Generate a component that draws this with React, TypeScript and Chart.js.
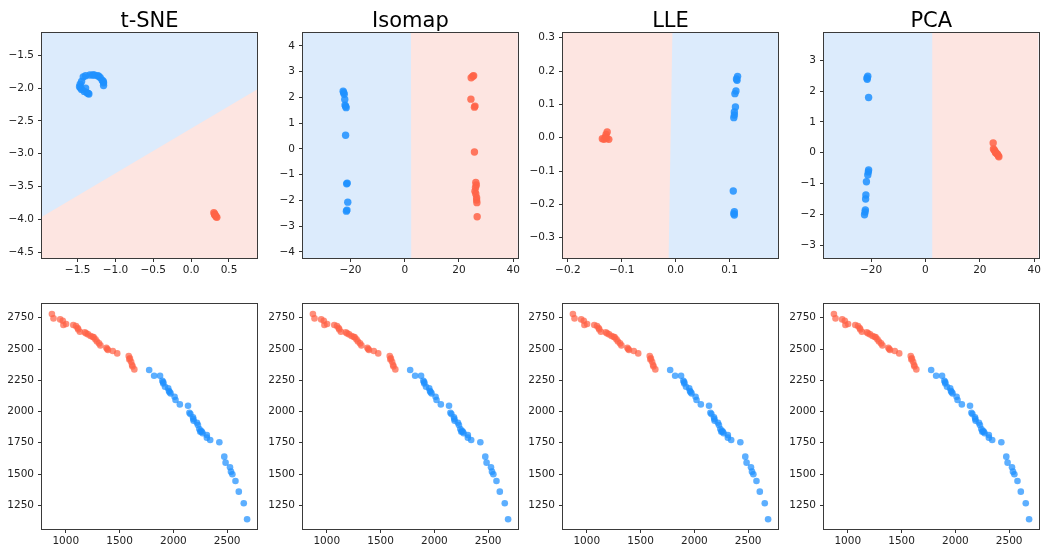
import { useEffect, useRef } from "react";
import { Chart, registerables } from "chart.js";

Chart.register(...registerables);

// ---- t-SNE embedding ----
const tsneBlueX = [-1.425, -1.394, -1.337, -1.3, -1.28, -1.236, -1.22, -1.201, -1.175, -1.16, -1.157, -1.157, -1.447, -1.465, -1.474, -1.46, -1.447, -1.412, -1.377, -1.351, -1.394, -1.36];
const tsneBlueY = [-1.83, -1.81, -1.8, -1.8, -1.8, -1.81, -1.82, -1.84, -1.88, -1.9, -1.92, -1.96, -1.9, -1.94, -1.98, -2.0, -2.02, -2.05, -2.07, -2.09, -2.0, -2.08];
const tsneRedX = [0.3, 0.31, 0.32, 0.33, 0.34, 0.31];
const tsneRedY = [-3.9, -3.92, -3.94, -3.96, -3.97, -3.93];
const tsneBoundaryX = [-1.97, 0.87];
const tsneBoundaryY = [-3.96, -2.02];
const tsneXTicks = [-1.5, -1.0, -0.5, 0.0, 0.5];
const tsneYTicks = [-4.5, -4.0, -3.5, -3.0, -2.5, -2.0, -1.5];

// ---- Isomap embedding ----
const isoBlueX = [-22.7, -22.5, -22.3, -22.1, -22.0, -21.8, -21.6, -21.8, -21.2, -21.4, -21.0, -21.3, -21.5];
const isoBlueY = [2.24, 2.18, 2.12, 1.92, 1.7, 1.65, 1.6, 0.53, -1.33, -1.36, -2.07, -2.38, -2.42];
const isoRedX = [25.1, 25.4, 24.5, 24.4, 25.7, 25.9, 25.7, 26.2, 26.4, 26.1, 25.9, 26.2, 26.5, 26.5, 26.6, 26.7];
const isoRedY = [2.82, 2.84, 2.76, 1.93, 1.62, 1.66, -0.12, -1.31, -1.4, -1.5, -1.65, -1.75, -1.9, -1.99, -2.09, -2.64];
const isoBoundaryX = [2.3, 2.4];
const isoBoundaryY = [4.5, -4.24];
const isoXTicks = [-20, 0, 20, 40];
const isoYTicks = [-4, -3, -2, -1, 0, 1, 2, 3, 4];

// ---- LLE embedding ----
const lleBlueX = [0.115, 0.114, 0.113, 0.112, 0.11, 0.111, 0.109, 0.108, 0.109, 0.107, 0.109, 0.108, 0.109];
const lleBlueY = [0.184, 0.172, 0.176, 0.14, 0.132, 0.092, 0.077, 0.06, 0.068, -0.16, -0.222, -0.228, -0.232];
const lleRedX = [-0.127, -0.129, -0.13, -0.136, -0.133, -0.124, -0.128];
const lleRedY = [0.017, 0.01, 0.002, -0.003, -0.005, -0.005, -0.002];
const lleBoundaryX = [-0.006, -0.013];
const lleBoundaryY = [0.314, -0.361];
const lleXTicks = [-0.2, -0.1, 0.0, 0.1];
const lleYTicks = [-0.3, -0.2, -0.1, 0.0, 0.1, 0.2, 0.3];

// ---- PCA embedding ----
const pcaBlueX = [-21.2, -21.5, -21.4, -20.9, -20.9, -21.0, -21.2, -21.7, -21.9, -22.0, -22.1, -22.2, -22.4];
const pcaBlueY = [2.48, 2.42, 2.38, 1.79, -0.56, -0.62, -0.72, -0.94, -1.37, -1.5, -1.85, -1.92, -2.01];
const pcaRedX = [24.9, 25.0, 25.3, 25.6, 25.8, 26.1, 26.5, 26.8, 27.0];
const pcaRedY = [0.32, 0.12, 0.09, 0.04, 0.0, -0.02, -0.05, -0.1, -0.13];
const pcaBoundaryX = [2.5, 2.5];
const pcaBoundaryY = [3.88, -3.41];
const pcaXTicks = [-20, 0, 20, 40];
const pcaYTicks = [-3, -2, -1, 0, 1, 2, 3];

// ---- original feature space (same for every method) ----
const rawRedX = [871, 886, 948, 972, 978, 1003, 1070, 1095, 1110, 1116, 1131, 1177, 1190, 1208, 1230, 1250, 1260, 1276, 1290, 1309, 1322, 1377, 1385, 1392, 1437, 1478, 1585, 1591, 1596, 1607, 1616, 1620, 1637];
const rawRedY = [2780, 2745, 2737, 2726, 2692, 2700, 2692, 2684, 2668, 2657, 2638, 2633, 2625, 2617, 2604, 2598, 2593, 2577, 2560, 2545, 2529, 2510, 2500, 2492, 2484, 2465, 2444, 2417, 2425, 2398, 2372, 2360, 2337];
const rawBlueX = [1775, 1821, 1876, 1897, 1905, 1906, 1922, 1952, 1959, 1965, 1974, 2011, 2020, 2060, 2136, 2149, 2158, 2182, 2185, 2188, 2219, 2228, 2241, 2250, 2255, 2265, 2271, 2311, 2311, 2342, 2427, 2473, 2485, 2526, 2535, 2548, 2577, 2608, 2654, 2685];
const rawBlueY = [2332, 2286, 2286, 2246, 2235, 2225, 2198, 2185, 2164, 2155, 2145, 2118, 2092, 2057, 2046, 1990, 1980, 1954, 1940, 1926, 1910, 1892, 1860, 1838, 1845, 1838, 1826, 1812, 1791, 1772, 1754, 1639, 1591, 1554, 1519, 1498, 1444, 1359, 1266, 1138];
const rawXTicks = [1000, 1500, 2000, 2500];
const rawYTicks = [1250, 1500, 1750, 2000, 2250, 2500, 2750];

const titles = ["t-SNE", "Isomap", "LLE", "PCA"];

const BLUE = "30,144,255";
const RED = "255,99,71";
const FONT = "'DejaVu Sans', sans-serif";

type Side = "below" | "right";

interface PanelCfg {
  title?: string;
  row: number;
  col: number;
  xRange: [number, number];
  yRange: [number, number];
  xTicks: number[];
  yTicks: number[];
  xDec: number;
  yDec: number;
  blueX: number[];
  blueY: number[];
  redX: number[];
  redY: number[];
  alpha: number;
  radius: number;
  boundary?: { x: number[]; y: number[]; base: string; other: string; side: Side };
}

const fmt = (v: number, d: number) => {
  const s = Math.abs(v).toFixed(d);
  return (v < -1e-9 ? "\u2212" : "") + s;
};

const pts = (xs: number[], ys: number[]) => xs.map((x, i) => ({ x, y: ys[i] }));

// opaque pale region fills
const bgBlue = "#dcebfc";
const bgRed = "#fde5e1";

const panels: PanelCfg[] = [
  {
    title: titles[0], row: 0, col: 0, xRange: [-1.97, 0.87], yRange: [-4.59, -1.16],
    xTicks: tsneXTicks, yTicks: tsneYTicks, xDec: 1, yDec: 1,
    blueX: tsneBlueX, blueY: tsneBlueY, redX: tsneRedX, redY: tsneRedY, alpha: 0.85, radius: 3.7,
    boundary: { x: tsneBoundaryX, y: tsneBoundaryY, base: bgBlue, other: bgRed, side: "below" },
  },
  {
    title: titles[1], row: 0, col: 1, xRange: [-37.5, 41.7], yRange: [-4.24, 4.5],
    xTicks: isoXTicks, yTicks: isoYTicks, xDec: 0, yDec: 0,
    blueX: isoBlueX, blueY: isoBlueY, redX: isoRedX, redY: isoRedY, alpha: 0.85, radius: 3.7,
    boundary: { x: isoBoundaryX, y: isoBoundaryY, base: bgBlue, other: bgRed, side: "right" },
  },
  {
    title: titles[2], row: 0, col: 2, xRange: [-0.209, 0.19], yRange: [-0.361, 0.314],
    xTicks: lleXTicks, yTicks: lleYTicks, xDec: 1, yDec: 1,
    blueX: lleBlueX, blueY: lleBlueY, redX: lleRedX, redY: lleRedY, alpha: 0.85, radius: 3.7,
    boundary: { x: lleBoundaryX, y: lleBoundaryY, base: bgRed, other: bgBlue, side: "right" },
  },
  {
    title: titles[3], row: 0, col: 3, xRange: [-37.3, 41.6], yRange: [-3.41, 3.88],
    xTicks: pcaXTicks, yTicks: pcaYTicks, xDec: 0, yDec: 0,
    blueX: pcaBlueX, blueY: pcaBlueY, redX: pcaRedX, redY: pcaRedY, alpha: 0.85, radius: 3.7,
    boundary: { x: pcaBoundaryX, y: pcaBoundaryY, base: bgBlue, other: bgRed, side: "right" },
  },
  ...[0, 1, 2, 3].map((c) => ({
    row: 1, col: c, xRange: [779, 2777] as [number, number], yRange: [1060, 2860] as [number, number],
    xTicks: rawXTicks, yTicks: rawYTicks, xDec: 0, yDec: 0,
    blueX: rawBlueX, blueY: rawBlueY, redX: rawRedX, redY: rawRedY, alpha: 0.72, radius: 3.3,
  })),
];

// grid geometry
const COL_LEFT = [42, 303, 563, 824];
const PLOT_W = 217;
const Y_AXIS_W = 42;
const RIGHT_PAD = 2;
const ROW_TOP = [0, 280];
const ROW_PAD_TOP = [33, 24];
const ROW_X_AXIS_H = [22, 17];
const PLOT_H = 225;

function Panel({ cfg }: { cfg: PanelCfg }) {
  const ref = useRef<HTMLCanvasElement | null>(null);
  const w = Y_AXIS_W + PLOT_W + RIGHT_PAD;
  const h = ROW_PAD_TOP[cfg.row] + PLOT_H + ROW_X_AXIS_H[cfg.row];

  useEffect(() => {
    if (!ref.current) return;
    const decor = {
      id: "decor",
      beforeDatasetsDraw(chart: any) {
        const b = cfg.boundary;
        if (!b) return;
        const { ctx, chartArea: a, scales } = chart;
        const sx = scales.x, sy = scales.y;
        ctx.save();
        ctx.beginPath();
        ctx.rect(a.left, a.top, a.right - a.left, a.bottom - a.top);
        ctx.clip();
        ctx.fillStyle = b.base;
        ctx.fillRect(a.left, a.top, a.right - a.left, a.bottom - a.top);
        const poly: [number, number][] = [
          [b.x[0], b.y[0]],
          [b.x[1], b.y[1]],
        ];
        if (b.side === "below") {
          poly.push([cfg.xRange[1], cfg.yRange[0]], [cfg.xRange[0], cfg.yRange[0]]);
        } else {
          poly.push([cfg.xRange[1], cfg.yRange[0]], [cfg.xRange[1], cfg.yRange[1]]);
        }
        ctx.beginPath();
        poly.forEach(([x, y], i) => {
          const px = sx.getPixelForValue(x);
          const py = sy.getPixelForValue(y);
          if (i === 0) ctx.moveTo(px, py);
          else ctx.lineTo(px, py);
        });
        ctx.closePath();
        ctx.fillStyle = b.other;
        ctx.fill();
        ctx.restore();
      },
      afterDraw(chart: any) {
        const { ctx, chartArea: a } = chart;
        ctx.save();
        ctx.strokeStyle = "#3a3a3a";
        ctx.lineWidth = 1;
        ctx.strokeRect(Math.round(a.left) - 0.5, Math.round(a.top) - 0.5, Math.round(a.right - a.left) + 1, Math.round(a.bottom - a.top) + 1);
        if (cfg.title) {
          ctx.fillStyle = "#000";
          ctx.font = `21px ${FONT}`;
          ctx.textAlign = "center";
          ctx.textBaseline = "alphabetic";
          ctx.fillText(cfg.title, (a.left + a.right) / 2, a.top - 6);
        }
        ctx.restore();
      },
    };

    const axisCommon = {
      type: "linear" as const,
      border: { display: false },
      grid: { display: true, drawOnChartArea: false, drawTicks: true, tickLength: 4, color: "#333", lineWidth: 1 },
    };

    const chart = new Chart(ref.current, {
      type: "scatter",
      data: {
        datasets: [
          {
            data: pts(cfg.blueX, cfg.blueY),
            backgroundColor: `rgba(${BLUE},${cfg.alpha})`,
            borderWidth: 0,
            pointRadius: cfg.radius,
          },
          {
            data: pts(cfg.redX, cfg.redY),
            backgroundColor: `rgba(${RED},${cfg.alpha})`,
            borderWidth: 0,
            pointRadius: cfg.radius,
          },
        ],
      },
      options: {
        responsive: false,
        maintainAspectRatio: false,
        devicePixelRatio: 1,
        animation: false,
        events: [],
        layout: { padding: { top: ROW_PAD_TOP[cfg.row], right: RIGHT_PAD, left: 0, bottom: 0 } },
        plugins: { legend: { display: false }, tooltip: { enabled: false }, title: { display: false } },
        scales: {
          x: {
            ...axisCommon,
            position: "bottom",
            min: cfg.xRange[0],
            max: cfg.xRange[1],
            afterBuildTicks: (s: any) => {
              s.ticks = cfg.xTicks.map((v) => ({ value: v }));
            },
            afterFit: (s: any) => {
              s.height = ROW_X_AXIS_H[cfg.row];
            },
            ticks: {
              autoSkip: false,
              maxRotation: 0,
              padding: 2,
              color: "#222",
              font: { family: FONT, size: 10.5 },
              callback: (v: any) => fmt(Number(v), cfg.xDec),
            },
          },
          y: {
            ...axisCommon,
            position: "left",
            min: cfg.yRange[0],
            max: cfg.yRange[1],
            afterBuildTicks: (s: any) => {
              s.ticks = cfg.yTicks.map((v) => ({ value: v }));
            },
            afterFit: (s: any) => {
              s.width = Y_AXIS_W;
            },
            ticks: {
              autoSkip: false,
              padding: 4,
              color: "#222",
              font: { family: FONT, size: 10.5 },
              callback: (v: any) => fmt(Number(v), cfg.yDec),
            },
          },
        },
      },
      plugins: [decor],
    } as any);
    return () => chart.destroy();
  }, [cfg]);

  return (
    <canvas
      ref={ref}
      width={w}
      height={h}
      style={{
        position: "absolute",
        left: COL_LEFT[cfg.col] - Y_AXIS_W,
        top: ROW_TOP[cfg.row],
        width: w,
        height: h,
      }}
    />
  );
}

export default function App() {
  return (
    <div
      style={{
        position: "fixed",
        left: 0,
        top: 0,
        width: 1043,
        height: 546,
        background: "#ffffff",
        overflow: "hidden",
      }}
    >
      {panels.map((p, i) => (
        <Panel key={i} cfg={p} />
      ))}
    </div>
  );
}
